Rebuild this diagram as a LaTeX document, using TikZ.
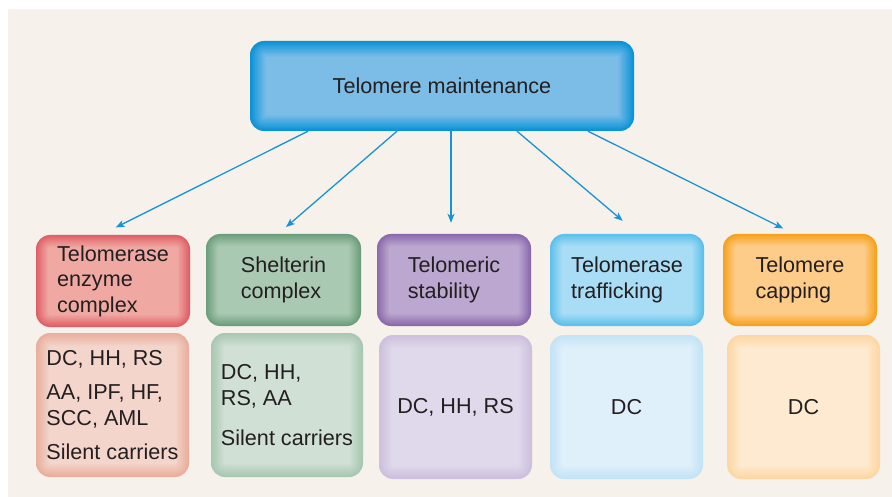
\documentclass[tikz,border=0pt]{standalone}
\usepackage{fontspec}
\setmainfont{Liberation Sans}
\usetikzlibrary{arrows.meta}
\definecolor{bg}{HTML}{F6F1EA}
\definecolor{txt}{HTML}{231F20}
\definecolor{arrowc}{HTML}{1A93D6}
\definecolor{topE}{HTML}{0A93D8}\definecolor{topI}{HTML}{7CBDE8}
\definecolor{aE}{HTML}{E05F66}\definecolor{aI}{HTML}{EFA9A2}
\definecolor{bE}{HTML}{6C9E7C}\definecolor{bI}{HTML}{AAC9B2}
\definecolor{cE}{HTML}{8A69AC}\definecolor{cI}{HTML}{BBA7CF}
\definecolor{dE}{HTML}{5BC0EB}\definecolor{dI}{HTML}{A9DDF5}
\definecolor{eE}{HTML}{F6A11B}\definecolor{eI}{HTML}{FDCC88}
\definecolor{aE2}{HTML}{E9AE9C}\definecolor{aI2}{HTML}{F3D5CB}
\definecolor{bE2}{HTML}{A8C7B0}\definecolor{bI2}{HTML}{D0E0D4}
\definecolor{cE2}{HTML}{CDBFDD}\definecolor{cI2}{HTML}{E0D9EB}
\definecolor{dE2}{HTML}{C3E3F6}\definecolor{dI2}{HTML}{DFF0FA}
\definecolor{eE2}{HTML}{FDD7A2}\definecolor{eI2}{HTML}{FEEAD0}
\tikzset{
  glow/.style n args={4}{fill=#1, rounded corners=14pt, inner sep=0pt,
    path picture={
      \foreach \i in {1,...,12}{
        \pgfmathtruncatemacro\p{\i*100/12}
        \pgfmathsetmacro\r{max(14-\i*#3,1)}
        \pgfmathsetmacro\s{\i*#3}
        \fill[#2!\p!#1, rounded corners=\r pt]
          ([shift={(\s pt,-\s pt)}]path picture bounding box.north west) rectangle
          ([shift={(-\s pt,\s pt)}]path picture bounding box.south east);
      }
    }, #4},
  lab/.style={font=\fontsize{21.6}{25.5}\selectfont, text=txt, align=left},
  boxA/.style={minimum width=154pt, minimum height=92pt, lab},
  boxB/.style={minimum width=153pt, minimum height=144pt, lab},
  conn/.style={draw=arrowc, line width=1.3pt, -{Stealth[length=9pt,width=7pt,inset=2.5pt]}},
}
\begin{document}
\begin{tikzpicture}[x=1pt,y=-1pt]
\useasboundingbox (0,0) rectangle (892,497);
\fill[bg] (8,9) rectangle (892,497);

\node[glow={topE}{topI}{1.3}{}, minimum width=384pt, minimum height=90pt, lab] (top) at (442,86) {Telomere maintenance};

\node[glow={aE}{aI}{1.0}{}, boxA] (r1a) at (113,281) {Telomerase\\enzyme\\complex};
\node[glow={bE}{bI}{1.0}{}, boxA, minimum width=155pt] (r1b) at (283.5,280) {Shelterin\\complex};
\node[glow={cE}{cI}{1.0}{}, boxA] (r1c) at (454,280) {Telomeric\\stability};
\node[glow={dE}{dI}{1.0}{}, boxA] (r1d) at (627,280) {Telomerase\\trafficking};
\node[glow={eE}{eI}{1.0}{}, boxA] (r1e) at (800,280) {Telomere\\capping};

\node[glow={aE2}{aI2}{1.1}{}, boxB] (r2a) at (112.5,405) {DC, HH, RS\\[8.5pt]AA, IPF, HF,\\SCC, AML\\[8.5pt]Silent carriers};
\node[glow={bE2}{bI2}{1.1}{}, boxB, minimum width=152pt] (r2b) at (287,405) {DC, HH,\\RS, AA\\[14.5pt]Silent carriers};
\node[glow={cE2}{cI2}{1.1}{}, boxB] (r2c) at (455.5,407) {DC, HH, RS};
\node[glow={dE2}{dI2}{1.1}{}, boxB] (r2d) at (626.5,407) {DC};
\node[glow={eE2}{eI2}{1.1}{}, boxB] (r2e) at (803.5,407) {DC};

\draw[conn] ([xshift=-134pt]top.south) -- ([xshift=2.7pt,yshift=7.3pt]r1a.north);
\draw[conn] ([xshift=-45pt]top.south) -- ([xshift=2.5pt,yshift=6.7pt]r1b.north);
\draw[conn] ([xshift=9pt]top.south) -- ([xshift=-3pt,yshift=11pt]r1c.north);
\draw[conn] ([xshift=75pt]top.south) -- ([xshift=-4.3pt,yshift=13pt]r1d.north);
\draw[conn] ([xshift=146pt]top.south) -- ([xshift=-16.7pt,yshift=5.3pt]r1e.north);
\end{tikzpicture}
\end{document}
